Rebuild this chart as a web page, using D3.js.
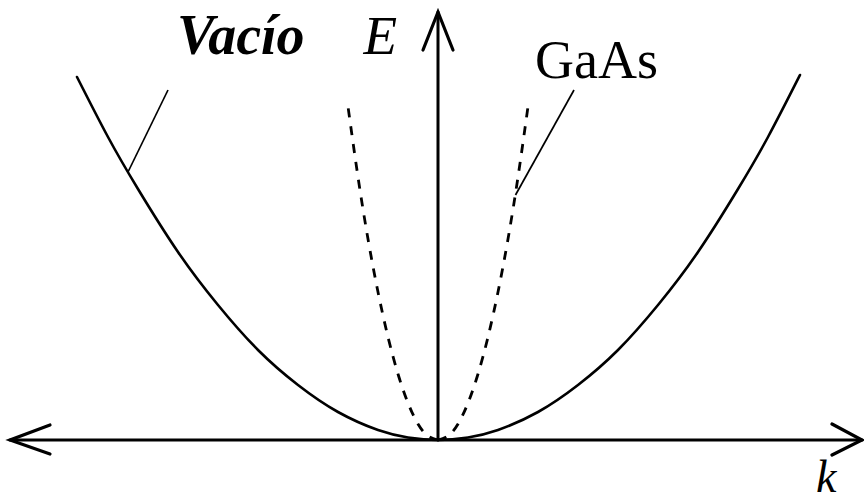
<!DOCTYPE html>
<html>
<head>
<meta charset="utf-8">
<script src="https://cdn.jsdelivr.net/npm/d3@7"></script>
<style>
  html, body { margin: 0; padding: 0; background: #fff; }
  svg { display: block; }
  text { font-family: "Liberation Serif", "Times New Roman", serif; fill: #000; }
</style>
</head>
<body>
<script>
// Dispersion E(k): free electron in vacuum vs. conduction band of GaAs (lighter effective mass -> narrower parabola)
const vacuumK = [-3.61, -3.3, -3.0, -2.6, -2.2, -1.8, -1.4, -1.0, -0.6, -0.3, 0, 0.3, 0.6, 1.0, 1.4, 1.8, 2.2, 2.6, 3.0, 3.3, 3.62];
const vacuumE = [3.63, 3.03, 2.51, 1.88, 1.35, 0.90, 0.55, 0.28, 0.10, 0.025, 0, 0.025, 0.10, 0.28, 0.55, 0.90, 1.35, 1.88, 2.51, 3.03, 3.65];

const gaasK = [-0.905, -0.8, -0.7, -0.6, -0.5, -0.4, -0.3, -0.2, -0.1, 0, 0.1, 0.2, 0.3, 0.4, 0.5, 0.6, 0.7, 0.8, 0.905];
const gaasE = [3.37, 2.63, 2.01, 1.48, 1.03, 0.66, 0.37, 0.16, 0.04, 0, 0.04, 0.16, 0.37, 0.66, 1.03, 1.48, 2.01, 2.63, 3.37];

// Axis extents (data units)
const kAxis = [-4.28, 4.24];
const eAxisTop = 4.28;

// Label leader lines: [start on curve, end near label]
const vacuumLeader = [[-3.10, 2.68], [-2.70, 3.50]];
const gaasLeader = [[0.775, 2.45], [1.36, 3.50]];

// Labels
const labels = [
  { text: "Vacío", k: -2.61, e: 3.86, style: "italic", weight: "bold", size: 56 },
  { text: "E",     k: -0.745, e: 3.86, style: "italic", weight: "normal", size: 55 },
  { text: "GaAs",  k: 0.97, e: 3.62, style: "normal", weight: "normal", size: 54 },
  { text: "k",     k: 3.78, e: -0.52, style: "italic", weight: "normal", size: 46 }
];

const W = 864, H = 504;
const x = d3.scaleLinear().domain([-4.38, 4.26]).range([0, W]);
const y = d3.scaleLinear().domain([0, 4.40]).range([440, 0]);

const svg = d3.select("body").append("svg").attr("width", W).attr("height", H);
svg.append("rect").attr("width", W).attr("height", H).attr("fill", "#fff");

const line = d3.line().x(d => x(d[0])).y(d => y(d[1])).curve(d3.curveNatural);

// Vacuum parabola (solid)
svg.append("path")
  .datum(d3.zip(vacuumK, vacuumE))
  .attr("d", line)
  .attr("fill", "none").attr("stroke", "#000")
  .attr("stroke-width", 2.6).attr("stroke-linecap", "round");

// GaAs parabola (dashed), drawn as two branches from the band minimum
const gaas = d3.zip(gaasK, gaasE);
const mid = gaasK.indexOf(0);
[gaas.slice(0, mid + 1).reverse(), gaas.slice(mid)].forEach(branch => {
  svg.append("path")
    .datum(branch)
    .attr("d", line)
    .attr("fill", "none").attr("stroke", "#000")
    .attr("stroke-width", 2.8).attr("stroke-dasharray", "9,9");
});

// Axes
const axisG = svg.append("g").attr("stroke", "#000").attr("fill", "none")
  .attr("stroke-linecap", "round").attr("stroke-linejoin", "miter");

axisG.append("line")
  .attr("x1", x(kAxis[0])).attr("x2", x(kAxis[1]))
  .attr("y1", y(0)).attr("y2", y(0)).attr("stroke-width", 3);
axisG.append("line")
  .attr("x1", x(0)).attr("x2", x(0))
  .attr("y1", y(0)).attr("y2", y(eAxisTop)).attr("stroke-width", 3);

// Open arrowheads
const arrow = d3.line();
const ax0 = x(kAxis[0]), ax1 = x(kAxis[1]), ay = y(0), vx = x(0), vy = y(eAxisTop);
axisG.append("path").attr("stroke-width", 3.2)
  .attr("d", arrow([[ax0 + 40, ay - 15], [ax0, ay], [ax0 + 40, ay + 14]]));
axisG.append("path").attr("stroke-width", 3.2)
  .attr("d", arrow([[ax1 - 30, ay - 16], [ax1, ay], [ax1 - 30, ay + 15]]));
axisG.append("path").attr("stroke-width", 3.2)
  .attr("d", arrow([[vx - 15, vy + 38], [vx, vy], [vx + 15, vy + 38]]));

// Leaders
[vacuumLeader, gaasLeader].forEach(l => {
  svg.append("line")
    .attr("x1", x(l[0][0])).attr("y1", y(l[0][1]))
    .attr("x2", x(l[1][0])).attr("y2", y(l[1][1]))
    .attr("stroke", "#000").attr("stroke-width", 1.7);
});

// Text labels
svg.selectAll("text.lbl").data(labels).enter().append("text")
  .attr("class", "lbl")
  .attr("x", d => x(d.k)).attr("y", d => y(d.e))
  .attr("font-size", d => d.size)
  .attr("font-style", d => d.style)
  .attr("font-weight", d => d.weight)
  .text(d => d.text);
</script>
</body>
</html>
